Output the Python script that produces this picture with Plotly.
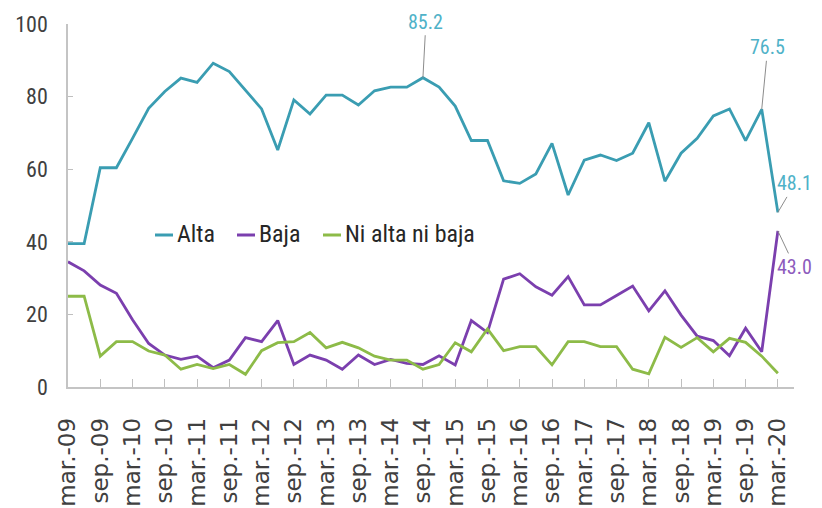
import plotly.graph_objects as go

# ---- data (quarterly, mar-09 .. mar-20) ----
quarters = [
    "mar.-09", "jun.-09", "sep.-09", "dic.-09",
    "mar.-10", "jun.-10", "sep.-10", "dic.-10",
    "mar.-11", "jun.-11", "sep.-11", "dic.-11",
    "mar.-12", "jun.-12", "sep.-12", "dic.-12",
    "mar.-13", "jun.-13", "sep.-13", "dic.-13",
    "mar.-14", "jun.-14", "sep.-14", "dic.-14",
    "mar.-15", "jun.-15", "sep.-15", "dic.-15",
    "mar.-16", "jun.-16", "sep.-16", "dic.-16",
    "mar.-17", "jun.-17", "sep.-17", "dic.-17",
    "mar.-18", "jun.-18", "sep.-18", "dic.-18",
    "mar.-19", "jun.-19", "sep.-19", "dic.-19",
    "mar.-20",
]
alta = [39.5, 39.5, 60.4, 60.4, 68.5, 76.8, 81.4, 85.1, 83.9, 89.2, 86.9, 81.9,
        76.6, 65.3, 79.1, 75.2, 80.4, 80.4, 77.7, 81.6, 82.6, 82.6, 85.2, 82.6,
        77.4, 67.9, 67.9, 56.8, 56.1, 58.7, 67.1, 52.9, 62.5, 63.9, 62.4, 64.4,
        72.8, 56.7, 64.4, 68.5, 74.7, 76.6, 67.9, 76.5, 48.1]
baja = [34.5, 32.0, 28.1, 25.8, 18.5, 12.0, 8.8, 7.6, 8.5, 5.3, 7.4, 13.6,
        12.5, 18.3, 6.2, 8.8, 7.4, 4.9, 8.8, 6.2, 7.6, 6.5, 6.2, 8.6,
        6.1, 18.3, 15.0, 29.7, 31.2, 27.6, 25.3, 30.4, 22.6, 22.6, 25.2, 27.8,
        21.0, 26.5, 19.8, 14.0, 12.8, 8.6, 16.2, 9.7, 43.0]
ni = [25.0, 25.0, 8.5, 12.5, 12.5, 9.9, 8.8, 4.9, 6.2, 5.1, 6.2, 3.5,
      10.0, 12.2, 12.5, 15.0, 10.8, 12.3, 10.8, 8.5, 7.4, 7.4, 4.9, 6.2,
      12.2, 9.7, 16.0, 10.0, 11.1, 11.1, 6.1, 12.5, 12.5, 11.1, 11.1, 4.9,
      3.6, 13.7, 10.9, 13.6, 9.7, 13.4, 12.3, 8.5, 3.8]
series_names = ["Alta", "Baja", "Ni alta ni baja"]
y_ticks = [0, 20, 40, 60, 80, 100]
# labelled points: (series index, quarter index, text)
callouts = [(0, 22, "85.2"), (0, 43, "76.5"), (0, 44, "48.1"), (1, 44, "43.0")]

# ---- styling ----
line_colors = ["#3a9db2", "#7b3fae", "#8dbb48"]
label_colors = ["#4fb2c8", "#8d5bbd", "#8dbb48"]
NARROW = "Liberation Sans Narrow, Arial Narrow, Roboto Condensed, sans-serif"

x_idx = list(range(len(quarters)))
fig = go.Figure()
for name, vals, col in zip(series_names, [alta, baja, ni], line_colors):
    fig.add_trace(go.Scatter(x=x_idx, y=vals, mode="lines", name=name,
                             line=dict(color=col, width=2.8), showlegend=False))

all_series = [alta, baja, ni]
offsets = {(0, 22): (3, -56), (0, 43): (6, -62), (0, 44): (17, -29), (1, 44): (17, 36)}
for s, i, txt in callouts:
    ax, ay = offsets[(s, i)]
    fig.add_annotation(x=i, y=all_series[s][i], text=txt, showarrow=True,
                       arrowhead=0, arrowwidth=1, arrowcolor="#8c8c8c",
                       ax=ax, ay=ay, standoff=0,
                       font=dict(family=NARROW, size=20, color=label_colors[s]))

# page has an 8px body margin; figure is sized to fill the rest of the window
OFF = 8
W, H = 822 - OFF, 508 - OFF
ml, mr, mt, mb = 68 - OFF, 28, 24 - OFF, 121
pw, ph = W - ml - mr, H - mt - mb
def px_to_paper(px, py):
    # px, py given in window pixel coordinates
    return (px - OFF - ml) / pw, (H - mb - (py - OFF)) / ph

leg_items = [(155, 173, 175), (237, 255, 257), (323, 341, 343)]
for (x0, x1, xt), name, col in zip(leg_items, series_names, line_colors):
    p0 = px_to_paper(x0, 235)
    p1 = px_to_paper(x1, 235)
    fig.add_shape(type="line", xref="paper", yref="paper",
                  x0=p0[0], x1=p1[0], y0=p0[1], y1=p1[1],
                  line=dict(color=col, width=3))
    pt = px_to_paper(xt, 234)
    fig.add_annotation(xref="paper", yref="paper", x=pt[0], y=pt[1],
                       text=name, showarrow=False, xanchor="left", yanchor="middle",
                       font=dict(family=NARROW, size=24, color="#262626"))

tick_vals = x_idx[::2]
tick_text = quarters[::2]
fig.update_layout(
    width=W, height=H,
    margin=dict(l=ml, r=mr, t=mt, b=mb, autoexpand=False),
    paper_bgcolor="white", plot_bgcolor="white",
    xaxis=dict(range=[0, 45], tickmode="array", tickvals=tick_vals, ticktext=tick_text,
               tickangle=-90, ticks="inside", ticklen=8, tickcolor="#bfbfbf", tickwidth=1,
               showline=True, linecolor="#c4c4c4", linewidth=1.5, showgrid=False,
               zeroline=False, ticklabelstandoff=20, automargin=False,
               tickfont=dict(family="DejaVu Sans", size=23, color="#404040")),
    yaxis=dict(range=[0, 100], tickmode="array", tickvals=y_ticks,
               ticks="inside", ticklen=5, tickcolor="#bfbfbf", tickwidth=1,
               showline=True, linecolor="#c4c4c4", linewidth=1.5, showgrid=False,
               zeroline=False, ticklabelstandoff=14, automargin=False,
               tickfont=dict(family=NARROW, size=22, color="#404040")),
)
fig.write_html("out.html")
